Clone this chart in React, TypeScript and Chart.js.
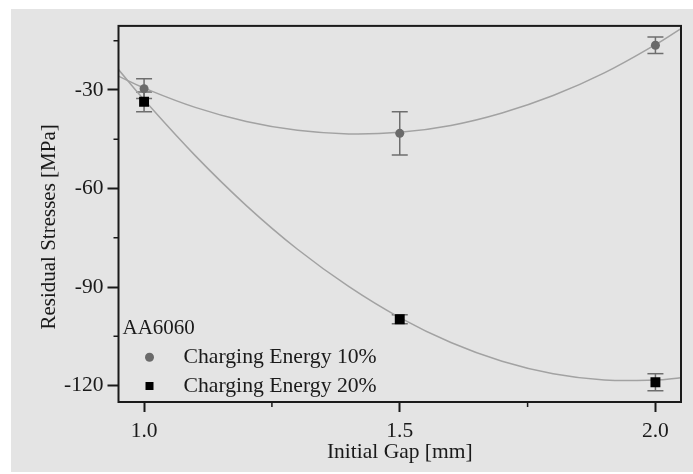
import React, { useEffect, useRef } from 'react';
import { Chart, registerables } from 'chart.js';

Chart.register(...registerables);

// ---- data ----
const GAP_MM = [1.0, 1.5, 2.0];
const MEAN_10 = [-29.6, -43.2, -16.4];
const ERR_10 = [3.0, 6.6, 2.5];
const MEAN_20 = [-33.6, -99.8, -119.0];
const ERR_20 = [3.0, 1.4, 2.6];

// fitted curves
const FIT_X = [0.95, 1.0, 1.1, 1.2, 1.3, 1.4, 1.5, 1.6, 1.7, 1.8, 1.9, 2.0, 2.05];
const FIT_10 = [-25.8, -29.4, -35.3, -39.6, -42.3, -43.4, -42.9, -40.8, -37.0, -31.7, -24.8, -16.2, -11.3];
const FIT_20 = [-23.8, -33.0, -50.0, -65.2, -78.5, -89.8, -99.3, -106.9, -112.6, -116.4, -118.3, -118.3, -117.6];

const X_TICKS = [1.0, 1.5, 2.0];
const X_MINOR = [1.25, 1.75];
const Y_TICKS = [-120, -90, -60, -30];
const Y_MINOR = [-105, -75, -45, -15];

const SERIES_LABELS = ['Charging Energy 10%', 'Charging Energy 20%'];
const LEGEND_TITLE = 'AA6060';
const X_TITLE = 'Initial Gap [mm]';
const Y_TITLE = 'Residual Stresses [MPa]';

const FONT = '"Liberation Serif", "Times New Roman", serif';
const INK = '#1a1a1a';
const CIRCLE_COLOR = '#6a6a6a';
const SQUARE_COLOR = '#000000';
const FIT_COLOR = '#a2a2a2';
const ERR_COLOR = '#6e6e6e';

const errorBarPlugin = {
  id: 'errorBars',
  beforeDatasetsDraw(chart: any) {
    const { ctx, scales } = chart;
    const xs = scales.x;
    const ys = scales.y;
    chart.data.datasets.forEach((ds: any, di: number) => {
      if (!ds.errorBars) return;
      const meta = chart.getDatasetMeta(di);
      if (meta.hidden) return;
      ctx.save();
      ctx.strokeStyle = ERR_COLOR;
      ctx.lineWidth = 1.5;
      ds.data.forEach((p: any, i: number) => {
        const e = ds.errorBars[i];
        const px = xs.getPixelForValue(p.x);
        const top = ys.getPixelForValue(p.y + e);
        const bot = ys.getPixelForValue(p.y - e);
        const cap = 8;
        ctx.beginPath();
        ctx.moveTo(px, top);
        ctx.lineTo(px, bot);
        ctx.moveTo(px - cap, top);
        ctx.lineTo(px + cap, top);
        ctx.moveTo(px - cap, bot);
        ctx.lineTo(px + cap, bot);
        ctx.stroke();
      });
      ctx.restore();
    });
  },
};

const framePlugin = {
  id: 'frameAndLegend',
  afterDraw(chart: any) {
    const { ctx, chartArea, scales } = chart;
    const { left, right, top, bottom } = chartArea;
    ctx.save();
    // minor ticks
    ctx.strokeStyle = INK;
    ctx.lineWidth = 1.5;
    ctx.beginPath();
    Y_MINOR.forEach((v) => {
      const py = scales.y.getPixelForValue(v);
      ctx.moveTo(left - 5, py);
      ctx.lineTo(left, py);
    });
    X_MINOR.forEach((v) => {
      const px = scales.x.getPixelForValue(v);
      ctx.moveTo(px, bottom);
      ctx.lineTo(px, bottom + 5);
    });
    ctx.stroke();
    // frame
    ctx.lineWidth = 2;
    ctx.strokeRect(left, top, right - left, bottom - top);

    // y-axis title
    ctx.fillStyle = INK;
    ctx.font = `21px ${FONT}`;
    ctx.textBaseline = 'middle';
    ctx.textAlign = 'center';
    ctx.save();
    ctx.translate(38, (top + bottom) / 2 + 13);
    ctx.rotate(-Math.PI / 2);
    ctx.fillText(Y_TITLE, 0, 0);
    ctx.restore();

    // legend inside plot
    ctx.textAlign = 'left';
    ctx.fillText(LEGEND_TITLE, left + 4, bottom - 74);
    ctx.font = `21.7px ${FONT}`;
    SERIES_LABELS.forEach((label, i) => {
      const cy = bottom - 44.7 + i * 28.7;
      const cx = left + 31;
      if (i === 0) {
        ctx.fillStyle = CIRCLE_COLOR;
        ctx.beginPath();
        ctx.arc(cx, cy, 4.5, 0, Math.PI * 2);
        ctx.fill();
      } else {
        ctx.fillStyle = SQUARE_COLOR;
        ctx.fillRect(cx - 4, cy - 4, 8, 8);
      }
      ctx.fillStyle = INK;
      ctx.fillText(label, left + 65, cy);
    });
    ctx.restore();
  },
};

export default function App() {
  const canvasRef = useRef<HTMLCanvasElement | null>(null);

  useEffect(() => {
    if (!canvasRef.current) return;
    const font = { family: FONT, size: 21.5 };
    const chart = new Chart(canvasRef.current, {
      type: 'scatter',
      data: {
        datasets: [
          {
            label: SERIES_LABELS[0],
            data: GAP_MM.map((x, i) => ({ x, y: MEAN_10[i] })),
            pointStyle: 'circle',
            pointRadius: 4.5,
            backgroundColor: CIRCLE_COLOR,
            borderWidth: 0,
            errorBars: ERR_10,
          } as any,
          {
            label: SERIES_LABELS[1],
            data: GAP_MM.map((x, i) => ({ x, y: MEAN_20[i] })),
            pointStyle: 'rect',
            pointRadius: 7,
            backgroundColor: SQUARE_COLOR,
            borderWidth: 0,
            errorBars: ERR_20,
          } as any,
          {
            label: 'fit10',
            data: FIT_X.map((x, i) => ({ x, y: FIT_10[i] })),
            showLine: true,
            pointRadius: 0,
            borderColor: FIT_COLOR,
            borderWidth: 1.5,
            tension: 0.4,
          },
          {
            label: 'fit20',
            data: FIT_X.map((x, i) => ({ x, y: FIT_20[i] })),
            showLine: true,
            pointRadius: 0,
            borderColor: FIT_COLOR,
            borderWidth: 1.5,
            tension: 0.4,
          },
        ],
      },
      options: {
        responsive: false,
        animation: false,
        layout: { padding: { top: 13, right: 12, left: 0, bottom: 0 } },
        plugins: {
          legend: { display: false },
          tooltip: { enabled: false },
        },
        scales: {
          x: {
            type: 'linear',
            min: 0.95,
            max: 2.05,
            afterBuildTicks: (s: any) => {
              s.ticks = X_TICKS.map((v) => ({ value: v }));
            },
            afterFit: (s: any) => {
              s.height = 70;
            },
            ticks: {
              callback: (v: any) => Number(v).toFixed(1),
              font,
              color: INK,
              padding: 6,
              maxRotation: 0,
              autoSkip: false,
            },
            grid: {
              display: true,
              drawOnChartArea: false,
              drawTicks: true,
              tickLength: 10,
              tickColor: INK,
              tickWidth: 2,
            },
            border: { display: false },
            title: {
              display: true,
              text: X_TITLE,
              font,
              color: INK,
              padding: { top: 0, bottom: 7 },
            },
          },
          y: {
            type: 'linear',
            min: -125,
            max: -10.5,
            afterBuildTicks: (s: any) => {
              s.ticks = Y_TICKS.map((v) => ({ value: v }));
            },
            afterFit: (s: any) => {
              s.width = 107.5;
            },
            ticks: {
              font,
              color: INK,
              padding: 4,
              autoSkip: false,
            },
            grid: {
              display: true,
              drawOnChartArea: false,
              drawTicks: true,
              tickLength: 11,
              tickColor: INK,
              tickWidth: 2,
            },
            border: { display: false },
            title: { display: false },
          },
        },
      },
      plugins: [errorBarPlugin, framePlugin],
    } as any);
    return () => chart.destroy();
  }, []);

  return (
    <div
      style={{
        position: 'absolute',
        left: 11,
        top: 9,
        width: 682,
        height: 463,
        background: '#e4e4e4',
      }}
    >
      <canvas ref={canvasRef} width={682} height={463} style={{ display: 'block' }} />
    </div>
  );
}
